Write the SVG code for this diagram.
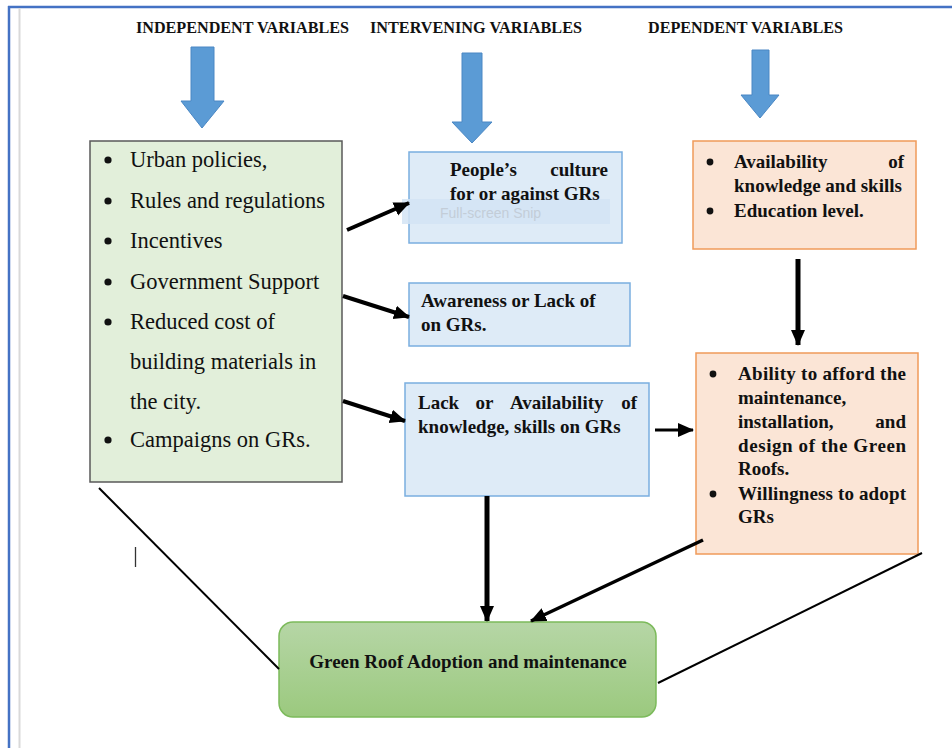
<svg xmlns="http://www.w3.org/2000/svg" width="952" height="748" viewBox="0 0 952 748">
<defs>
<style>
.hdr{font-family:"Liberation Serif","Times New Roman",serif;font-weight:bold;font-size:16px;fill:#111}
.reg{font-family:"Liberation Serif","Times New Roman",serif;font-size:22.5px;fill:#111}
.bld{font-family:"Liberation Serif","Times New Roman",serif;font-weight:bold;font-size:19px;fill:#111}
.bigarrow{fill:#5b9bd5;stroke:#4a87c4;stroke-width:1}
.conn{stroke:#000;fill:none}
.thin{stroke:#000;stroke-width:2;fill:none}
.bluebox{fill:#deebf7;stroke:#7aaee0;stroke-width:1.5}
.orangebox{fill:#fbe5d6;stroke:#f09a5a;stroke-width:1.5}
.dot{fill:#111}
</style>
<marker id="ah" markerUnits="userSpaceOnUse" markerWidth="16" markerHeight="16" viewBox="0 0 16 16" refX="15" refY="8" orient="auto">
<path d="M0,1 L16,8 L0,15 Z" fill="#000"/>
</marker>
<linearGradient id="gg" x1="0" y1="0" x2="0" y2="1">
<stop offset="0" stop-color="#b6d6a6"/>
<stop offset="1" stop-color="#9bc97e"/>
</linearGradient>
</defs>
<rect width="952" height="748" fill="#fff"/>
<!-- page frame -->
<line x1="8" y1="7" x2="952" y2="7" stroke="#4472c4" stroke-width="2.5"/>
<line x1="9" y1="6" x2="9" y2="748" stroke="#4472c4" stroke-width="2.5"/>
<line x1="19.5" y1="8" x2="19.5" y2="748" stroke="#d9d9d9" stroke-width="2"/>

<!-- headers -->
<g id="headers">
<text class="hdr" x="136" y="33" textLength="213" lengthAdjust="spacingAndGlyphs">INDEPENDENT VARIABLES</text>
<text class="hdr" x="370" y="33" textLength="212" lengthAdjust="spacingAndGlyphs">INTERVENING VARIABLES</text>
<text class="hdr" x="648" y="33" textLength="195" lengthAdjust="spacingAndGlyphs">DEPENDENT VARIABLES</text>
<polygon class="bigarrow" points="191,47 214,47 214,101 224,101 202,128 181,101 191,101"/>
<polygon class="bigarrow" points="462,53 482,53 482,122 492,122 472,143 452,122 462,122"/>
<polygon class="bigarrow" points="752,50 769,50 769,95 779,95 760,118 741,95 752,95"/>
</g>

<!-- independent variables -->
<g id="independent">
<rect x="90" y="141" width="252" height="341" fill="#e2efda" stroke="#595959" stroke-width="1.5"/>
<circle class="dot" cx="108" cy="160" r="3.6"/>
<circle class="dot" cx="108" cy="201" r="3.6"/>
<circle class="dot" cx="108" cy="241" r="3.6"/>
<circle class="dot" cx="108" cy="282" r="3.6"/>
<circle class="dot" cx="108" cy="322" r="3.6"/>
<circle class="dot" cx="108" cy="440" r="3.6"/>
<g class="reg">
<text x="130" y="167">Urban policies,</text>
<text x="130" y="208">Rules and regulations</text>
<text x="130" y="248">Incentives</text>
<text x="130" y="289">Government Support</text>
<text x="130" y="329">Reduced cost of</text>
<text x="130" y="369">building materials in</text>
<text x="130" y="409">the city.</text>
<text x="130" y="447">Campaigns on GRs.</text>
</g>
</g>

<!-- intervening 1 -->
<g id="culture">
<rect class="bluebox" x="409" y="152" width="213" height="91"/>
<rect x="402" y="199" width="208" height="25" fill="#d3e4f5" opacity="0.85"/>
<text x="440" y="218" font-family="'Liberation Sans',Arial,sans-serif" font-size="14" fill="#c3cdd8">Full-screen Snip</text>
<text class="bld" x="450" y="176">People’s</text>
<text class="bld" x="608" y="176" text-anchor="end">culture</text>
<text class="bld" x="450" y="200">for or against GRs</text>
</g>

<!-- intervening 2 -->
<g id="awareness">
<rect class="bluebox" x="409" y="283" width="221" height="63"/>
<text class="bld" x="421" y="307">Awareness or Lack of</text>
<text class="bld" x="421" y="331">on GRs.</text>
</g>

<!-- intervening 3 -->
<g id="knowledge">
<rect class="bluebox" x="405" y="383" width="244" height="113"/>
<text class="bld" x="418" y="409">Lack</text>
<text class="bld" x="475.6" y="409">or</text>
<text class="bld" x="509.9" y="409">Availability</text>
<text class="bld" x="637" y="409" text-anchor="end">of</text>
<text class="bld" x="418" y="433">knowledge, skills on GRs</text>
</g>

<!-- dependent 1 -->
<g id="education">
<rect class="orangebox" x="693" y="141" width="223" height="108"/>
<circle class="dot" cx="710" cy="162" r="3.4"/>
<circle class="dot" cx="710" cy="211" r="3.4"/>
<text class="bld" x="734" y="168">Availability</text>
<text class="bld" x="904" y="168" text-anchor="end">of</text>
<text class="bld" x="734" y="192">knowledge and skills</text>
<text class="bld" x="734" y="217">Education level.</text>
</g>

<!-- dependent 2 -->
<g id="ability">
<rect class="orangebox" x="696" y="353" width="222" height="201"/>
<circle class="dot" cx="713" cy="374" r="3.4"/>
<circle class="dot" cx="713" cy="494" r="3.4"/>
<text class="bld" x="738" y="380" textLength="168" lengthAdjust="spacing">Ability to afford the</text>
<text class="bld" x="738" y="404">maintenance,</text>
<text class="bld" x="738" y="428">installation,</text>
<text class="bld" x="906" y="428" text-anchor="end">and</text>
<text class="bld" x="738" y="452" textLength="168" lengthAdjust="spacing">design of the Green</text>
<text class="bld" x="738" y="475">Roofs.</text>
<text class="bld" x="738" y="500" textLength="168" lengthAdjust="spacing">Willingness to adopt</text>
<text class="bld" x="738" y="523">GRs</text>
</g>

<!-- outcome -->
<g id="adoption">
<rect x="279" y="622" width="377" height="95" rx="14" ry="14" fill="url(#gg)" stroke="#7cba5b" stroke-width="1.5"/>
<text class="bld" x="468" y="668" text-anchor="middle">Green Roof Adoption and maintenance</text>
</g>

<!-- connectors -->
<g id="connectors">
<line class="conn" x1="347" y1="230" x2="409" y2="203" stroke-width="4" marker-end="url(#ah)"/>
<line class="conn" x1="343" y1="296" x2="409" y2="317" stroke-width="4" marker-end="url(#ah)"/>
<line class="conn" x1="343" y1="401" x2="405" y2="421" stroke-width="4" marker-end="url(#ah)"/>
<line class="conn" x1="655" y1="430" x2="693" y2="430" stroke-width="3" marker-end="url(#ah)"/>
<line class="conn" x1="798" y1="259" x2="798" y2="345" stroke-width="5" marker-end="url(#ah)"/>
<line class="conn" x1="487" y1="496" x2="487" y2="621" stroke-width="5" marker-end="url(#ah)"/>
<line class="conn" x1="703" y1="540" x2="531" y2="621" stroke-width="3.5" marker-end="url(#ah)"/>
<line class="thin" x1="99" y1="488" x2="279" y2="669"/>
<line class="thin" x1="658" y1="683" x2="922" y2="553"/>
</g>
<line x1="135.5" y1="547" x2="135.5" y2="567" stroke="#333" stroke-width="1.3"/>
</svg>
